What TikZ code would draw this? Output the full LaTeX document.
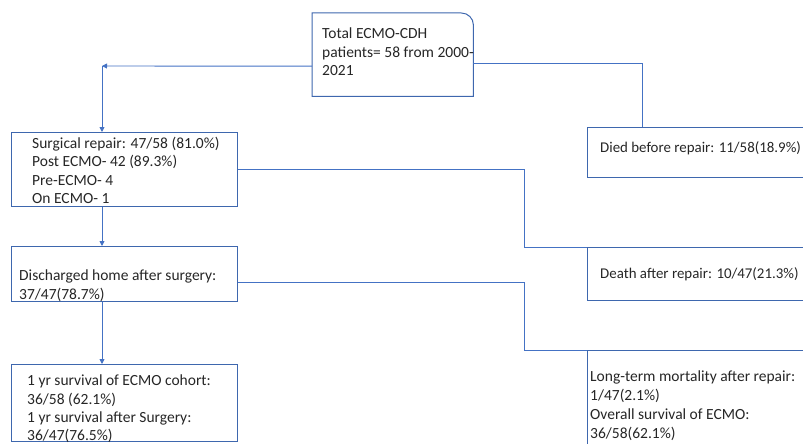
\documentclass[tikz,border=0pt]{standalone}
\usepackage{fontspec}
\setmainfont{Carlito}
\usetikzlibrary{arrows.meta}
\definecolor{linkblue}{HTML}{4472C4}
\definecolor{boxblue}{HTML}{3E67AE}
\definecolor{textgray}{HTML}{262626}
\tikzset{
	box/.style={draw=boxblue, line width=1pt, rectangle, inner sep=0pt, anchor=north west},
	txt/.style={anchor=north west, inner sep=0pt, align=left, text=textgray,
		font=\fontsize{15.5}{18.3}\selectfont, execute at begin node=\strut},
	link/.style={draw=linkblue, line width=0.9pt},
	arrow/.style={link, -{Triangle[length=5pt,width=5pt]}}
}
\begin{document}
\begin{tikzpicture}[x=1pt, y=-1pt]
			\useasboundingbox (0,0) rectangle (803,444);
			
			% boxes
			\node[minimum width=161, minimum height=83, inner sep=0pt, anchor=north west] (total) at (312,13) {};
			\draw[boxblue, line width=1pt] (total.south west) -- (total.north west) -- ([xshift=-12pt]total.north east) arc[start angle=90, end angle=0, radius=12pt] -- (total.south east) -- cycle;
			\node[box, minimum width=226, minimum height=74] (surg) at (11,132) {};
			\node[box, minimum width=240, minimum height=50] (died) at (587,127) {};
			\node[box, minimum width=226, minimum height=55] (disch) at (11,246) {};
			\node[box, minimum width=240, minimum height=53] (death) at (587,247) {};
			\node[box, minimum width=226, minimum height=77] (oneyr) at (11,364) {};
			\node[box, minimum width=240, minimum height=130] (longterm) at (587,350) {};
			
			% texts
			\node[txt] (totaltxt) at (322,28) {Total ECMO-CDH\\patients= 58 from 2000-\\2021};
			\node[txt] (surgtxt) at (32,137) {Surgical repair: 47/58 (81.0\%)\\Post ECMO- 42 (89.3\%)\\Pre-ECMO- 4\\On ECMO- 1};
			\node[txt, font=\fontsize{14.9}{18.3}\selectfont] (diedtxt) at (600,139) {Died before repair: 11/58(18.9\%)};
			\node[txt] (dischtxt) at (19,270) {Discharged home after surgery:\\37/47(78.7\%)};
			\node[txt, font=\fontsize{14.9}{18.3}\selectfont] (deathtxt) at (600,265) {Death after repair: 10/47(21.3\%)};
			\node[txt] (oneyrtxt) at (27,375) {1 yr survival of ECMO cohort:\\36/58 (62.1\%)\\1 yr survival after Surgery:\\36/47(76.5\%)};
			\node[txt, font=\fontsize{15.5}{19}\selectfont] (longtermtxt) at (590,371) {Long-term mortality after repair:\\1/47(2.1\%)\\Overall survival of ECMO:\\36/58(62.1\%)};
			
			% connectors
			\coordinate (split) at (102,66);
			\draw[arrow] ([yshift=-11.5pt]total.west) -- (split);
			\draw[arrow] (split) -- (surg.north -| split);
			\draw[link] ([yshift=-8.5pt]total.east) -| ([xshift=55pt]died.north west);
			\draw[arrow] (surg.south -| split) -- (disch.north -| split);
			\draw[arrow] (disch.south -| split) -- (oneyr.north -| split);
			\draw[link] (surg.east) -| ([xshift=-63pt]death.north west) -- (death.north west);
			\draw[link] ([yshift=-8.5pt]disch.east) -| ([xshift=-63pt]longterm.north west) -- (longterm.north west);
\end{tikzpicture}
\end{document}
